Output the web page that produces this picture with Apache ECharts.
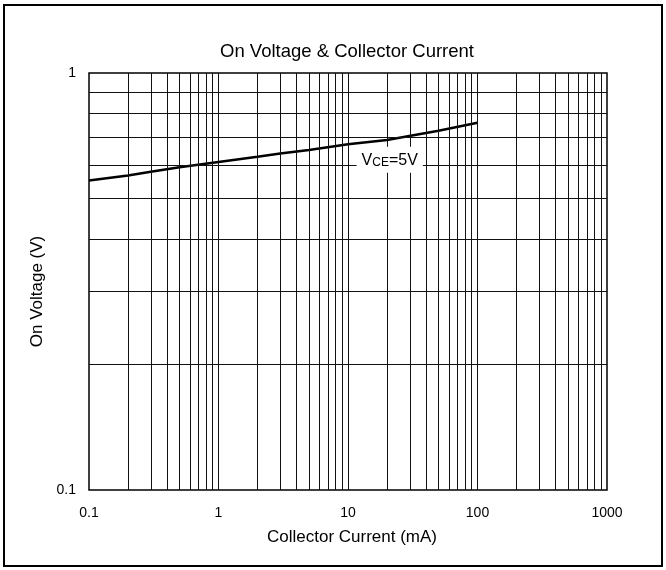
<!DOCTYPE html>
<html><head><meta charset="utf-8">
<script src="https://cdn.jsdelivr.net/npm/echarts@6/dist/echarts.min.js"></script>
<style>html,body{margin:0;padding:0;background:#fff}#c{width:666px;height:570px}</style>
</head><body><div id="c"></div>
<script>
var currentMA = [0.1, 0.2, 0.3, 0.5, 1, 2, 3, 5, 10, 20, 50, 100];
var onVoltage = [0.552, 0.568, 0.580, 0.594, 0.612, 0.630, 0.641, 0.654, 0.675, 0.691, 0.727, 0.760];
var xGrid = [0.2,0.3,0.4,0.5,0.6,0.7,0.8,0.9,1,2,3,4,5,6,7,8,9,10,20,30,40,50,60,70,80,90,100,200,300,400,500,600,700,800,900];
var yGrid = [0.2,0.3,0.4,0.5,0.6,0.7,0.8,0.9];
var annotation = {x: 21, y: 0.619};

var font = 'Liberation Sans, Arial, sans-serif';
var chart = echarts.init(document.getElementById('c'));
var gridLines = xGrid.map(function(v){return {xAxis: v};}).concat(yGrid.map(function(v){return {yAxis: v};}));
chart.setOption({
  animation: false,
  backgroundColor: '#fff',
  title: {text: 'On Voltage & Collector Current', left: 342, top: 37, textAlign: 'center',
    textStyle: {fontFamily: font, fontSize: 18.5, fontWeight: 'normal', color: '#000'}},
  graphic: [{type: 'rect', shape: {x: 4, y: 5, width: 658, height: 561},
    style: {fill: 'none', stroke: '#000', lineWidth: 2}}],
  grid: {left: 89, right: 59, top: 73, bottom: 80, show: true, borderColor: '#000', borderWidth: 1.5},
  xAxis: {type: 'log', logBase: 10, min: 0.1, max: 1000,
    name: 'Collector Current (mA)', nameLocation: 'middle', nameGap: 39,
    nameTextStyle: {fontFamily: font, fontSize: 17, color: '#000', padding: [0, 0, 0, 8]},
    axisLine: {show: false}, axisTick: {show: false}, splitLine: {show: false},
    axisLabel: {fontFamily: font, fontSize: 14, color: '#000', margin: 16,
      formatter: function(v){return String(v);}}},
  yAxis: {type: 'log', logBase: 10, min: 0.1, max: 1,
    name: 'On Voltage (V)', nameLocation: 'middle', nameGap: 38, nameRotate: 90,
    nameTextStyle: {fontFamily: font, fontSize: 17, color: '#000', padding: [0, 20, 0, 0]},
    axisLine: {show: false}, axisTick: {show: false}, splitLine: {show: false},
    axisLabel: {fontFamily: font, fontSize: 14, color: '#000', margin: 13,
      formatter: function(v){return String(v);}}},
  series: [
    {type: 'line', data: [], silent: true,
      markLine: {silent: true, symbol: 'none', label: {show: false},
        lineStyle: {type: 'solid', color: '#111', width: 1}, data: gridLines}},
    {type: 'line', showSymbol: false, silent: true,
      data: currentMA.map(function(x, i){return [x, onVoltage[i]];}),
      lineStyle: {color: '#000', width: 2.5},
      markPoint: {symbol: 'rect', symbolSize: 0, silent: true,
        data: [{coord: [annotation.x, annotation.y]}],
        label: {show: true, position: 'inside', backgroundColor: '#fff', padding: [5, 5, 4, 5],
          formatter: '{v|V}{s|CE}{v|=5V}',
          rich: {v: {fontFamily: font, fontSize: 16, color: '#000'},
                 s: {fontFamily: font, fontSize: 12, color: '#000', verticalAlign: 'bottom', padding: [5,0,0,0]}}}}}
  ]
});
</script></body></html>
